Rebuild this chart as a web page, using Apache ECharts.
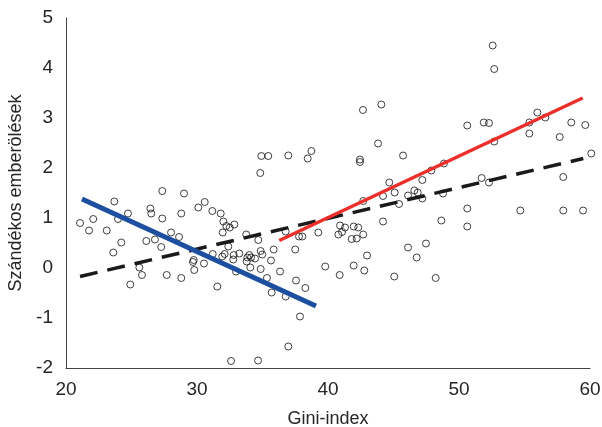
<!DOCTYPE html>
<html>
<head>
<meta charset="utf-8">
<script src="https://cdn.jsdelivr.net/npm/echarts@6/dist/echarts.min.js"></script>
<style>html,body{margin:0;padding:0;background:#fff}#c{width:602px;height:427px}</style>
</head>
<body>
<div id="c"></div>
<script>
// Scatter data: Gini-index (x) and intentional homicides (y)
var giniX = [21.07,22.08,21.76,23.11,23.69,23.97,24.73,24.22,23.61,24.91,25.60,25.80,26.13,26.44,26.51,26.79,27.27,27.35,27.35,27.69,28.02,28.63,28.80,29.01,28.80,
29.75,29.69,29.79,30.10,30.59,30.53,31.17,31.20,31.55,31.81,32.01,31.96,32.24,32.50,32.85,32.39,32.11,31.93,32.80,32.77,32.98,33.23,33.76,33.84,33.99,34.12,34.43,33.79,34.07,34.68,34.86,34.98,34.86,34.83,34.91,35.44,35.34,35.65,35.70,35.85,36.34,36.77,36.77,36.97,36.97,37.50,37.56,37.79,38.04,37.86,38.27,38.45,38.73,32.60,34.66,
39.26,39.79,40.89,40.92,41.30,41.07,40.79,41.96,42.31,42.69,41.81,42.19,41.96,42.77,42.98,42.67,44.07,43.82,42.44,42.44,42.69,44.20,44.20,44.68,45.09,45.06,45.42,45.73,46.11,46.11,46.59,46.85,46.77,47.20,47.20,47.48,47.89,48.22,48.65,48.78,48.85,
50.63,51.89,52.29,52.57,52.69,52.69,51.73,52.29,50.63,50.63,54.68,55.37,55.37,55.98,56.59,57.69,57.96,57.96,58.57,59.47,59.64,60.10];
var homicideY = [0.90,0.98,0.75,0.75,1.33,0.98,1.09,0.51,0.31,-0.33,0.01,-0.14,0.54,1.19,1.09,0.57,0.42,1.54,0.99,-0.14,0.71,0.62,1.09,1.49,-0.20,
0.16,0.12,-0.04,1.21,1.32,0.09,1.14,0.28,-0.37,1.09,0.93,0.71,0.84,0.81,0.87,0.43,0.28,0.23,0.26,0.17,-0.07,0.29,0.67,0.21,0.26,0.21,0.19,0.13,0.01,0.56,0.34,0.27,-0.02,1.90,2.24,2.24,-0.20,0.15,-0.49,0.37,-0.07,0.73,-0.57,2.25,-1.57,0.37,-0.25,0.63,0.63,-0.97,-0.40,2.19,2.34,-1.86,-1.85,
0.71,0.03,-0.14,0.85,0.81,0.72,0.67,0.83,0.81,0.67,0.58,0.59,0.05,-0.05,0.25,3.16,3.27,2.49,2.17,2.12,1.34,1.44,0.93,1.71,1.51,-0.17,1.28,2.25,1.45,0.41,1.55,1.51,0.21,1.76,1.39,0.49,1.95,-0.20,0.95,1.49,2.09,
2.85,2.91,2.90,4.45,3.98,2.53,1.80,1.71,1.19,0.83,1.15,2.91,2.69,3.11,3.01,2.62,1.82,1.15,2.91,1.15,2.86,2.29];

// Fit lines (endpoints)
var lowFitX = [21.22, 39.08];
var lowFitY = [1.38, -0.76];
var highFitX = [36.28, 59.44];
var highFitY = [0.55, 3.40];
var allFitX = [21.07, 59.49];
var allFitY = [-0.17, 2.19];

var xTicks = [20, 30, 40, 50, 60];
var yTicks = [-2, -1, 0, 1, 2, 3, 4, 5];

function pairs(xs, ys){ return xs.map(function(x,i){ return [x, ys[i]]; }); }

var chart = echarts.init(document.getElementById('c'), null, {renderer:'canvas'});
var font = 'Liberation Sans, Arial, sans-serif';
chart.setOption({
  animation: false,
  backgroundColor: '#ffffff',
  grid: {left: 66, right: 12, top: 18, bottom: 59, containLabel: false, outerBoundsMode: 'none'},
  xAxis: {
    type: 'value', min: xTicks[0], max: xTicks[xTicks.length-1], interval: 10,
    name: 'Gini-index', nameLocation: 'middle', nameGap: 42,
    nameTextStyle: {fontFamily: font, fontSize: 18, color: '#262626'},
    axisLine: {show: true, onZero: false, lineStyle: {color: '#444', width: 1}},
    axisTick: {show: false},
    splitLine: {show: false},
    axisLabel: {fontFamily: font, fontSize: 19, color: '#262626', margin: 12}
  },
  yAxis: {
    type: 'value', min: yTicks[0], max: yTicks[yTicks.length-1], interval: 1,
    name: 'Szándékos emberölések', nameLocation: 'middle', nameGap: 35, nameRotate: 90,
    nameTextStyle: {fontFamily: font, fontSize: 18, color: '#262626'},
    axisLine: {show: true, onZero: false, lineStyle: {color: '#444', width: 1}},
    axisTick: {show: false},
    splitLine: {show: false},
    axisLabel: {fontFamily: font, fontSize: 19, color: '#262626', margin: 13}
  },
  series: [
    {
      type: 'scatter', data: pairs(giniX, homicideY), symbol: 'circle', symbolSize: 7,
      clip: false,
      itemStyle: {color: 'rgba(255,255,255,0)', borderColor: '#111', borderWidth: 1}
    },
    {
      type: 'line', data: pairs(allFitX, allFitY), symbol: 'none', z: 3,
      lineStyle: {color: '#1a1a1a', width: 3.5, type: [18, 10]}
    },
    {
      type: 'line', data: pairs(lowFitX, lowFitY), symbol: 'none', z: 4,
      lineStyle: {color: '#1c4fa0', width: 5, cap: 'butt'}
    },
    {
      type: 'line', data: pairs(highFitX, highFitY), symbol: 'none', z: 4,
      lineStyle: {color: '#ec2f2a', width: 3.5, cap: 'butt'}
    }
  ]
});
</script>
</body>
</html>
